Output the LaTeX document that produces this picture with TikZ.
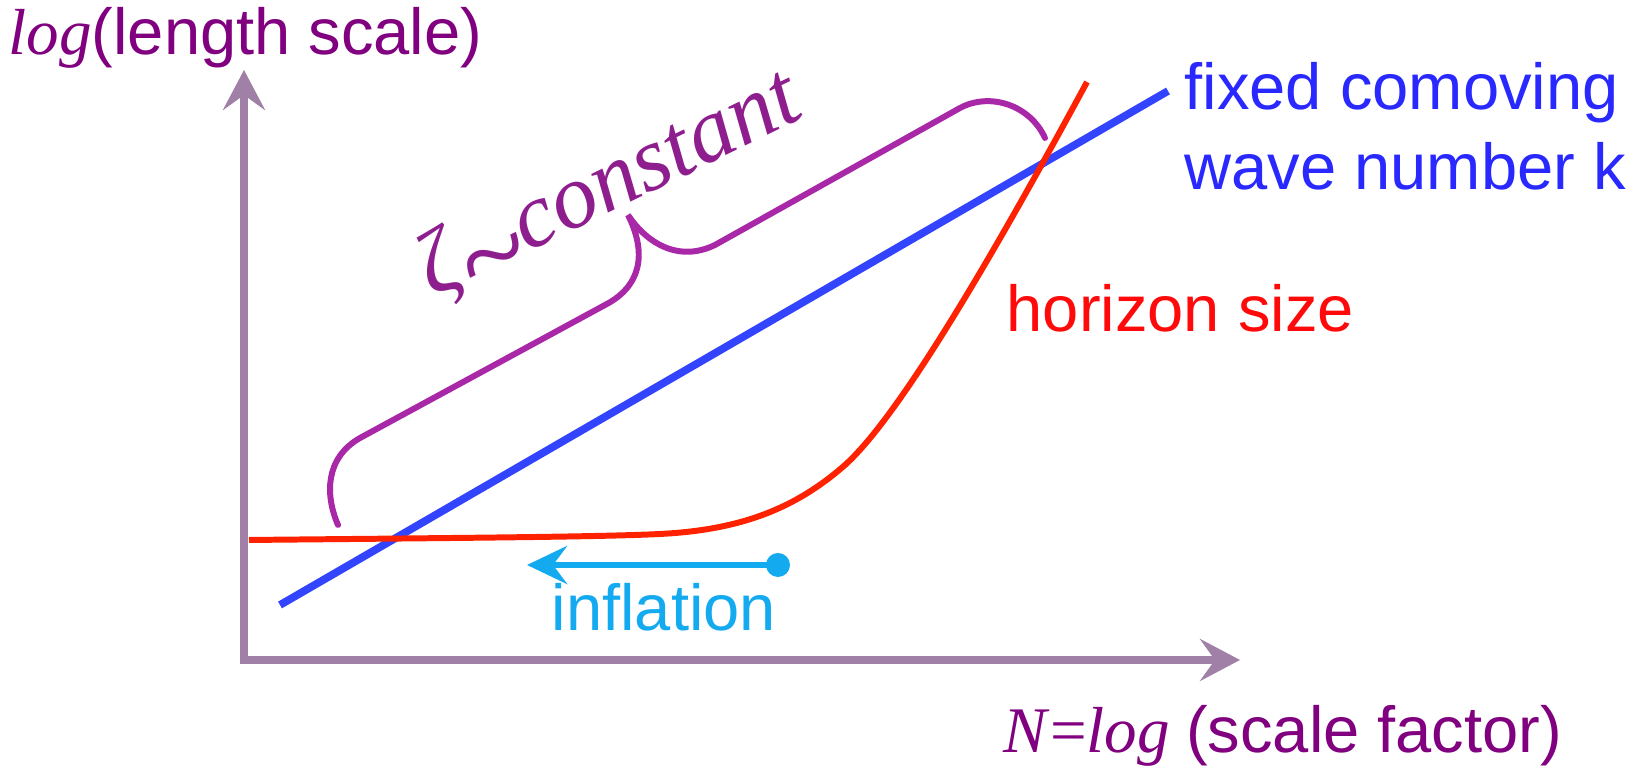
\documentclass[tikz,border=0pt]{standalone}
\usepackage{fontspec}
\setmainfont{Liberation Serif}
\newfontfamily\sansf{Liberation Sans}
\usetikzlibrary{arrows.meta}
\definecolor{axisc}{RGB}{161,128,168}
\definecolor{labc}{RGB}{128,0,128}
\definecolor{bracec}{RGB}{168,40,168}
\definecolor{zetac}{RGB}{142,30,142}
\definecolor{kline}{RGB}{51,68,255}
\definecolor{ktext}{RGB}{40,40,255}
\definecolor{hline}{RGB}{255,34,0}
\definecolor{htext}{RGB}{255,10,10}
\definecolor{inflc}{RGB}{20,170,240}
\tikzset{
  axisline/.style={draw=axisc, line width=2pt, line join=miter,
    {Stealth[length=0.4cm,width=0.42cm,inset=0.15cm]}-{Stealth[length=0.4cm,width=0.42cm,inset=0.15cm]}},
  kwave/.style={draw=kline, line width=2.2pt},
  horizon/.style={draw=hline, line width=1.7pt},
  bracepath/.style={draw=bracec, line width=1.7pt, line cap=round},
  inflarrow/.style={draw=inflc, line width=1.8pt, -{Stealth[length=0.4cm,width=0.38cm,inset=0.14cm]}},
  sanslab/.style={inner sep=0pt, font=\fontsize{18.5pt}{22pt}\sansf},
  mixlab/.style={inner sep=0pt, font=\fontsize{18.5pt}{22pt}\selectfont, text=labc}
}
\begin{document}
\begin{tikzpicture}[x=0.01cm,y=-0.01cm]
\useasboundingbox (0,0) rectangle (1635,768);
% axes
\coordinate (origin) at (244,660);
\coordinate (ytip) at (244,70);
\coordinate (xtip) at (1240,660);
\draw[axisline] (ytip) -- (origin) -- (xtip);
% axis labels
\node[mixlab, anchor=base west] (ylab) at (8,55) {\textit{log}{\sansf(length scale)}};
\node[mixlab, anchor=base west] (xlab) at (1003,753) {\textit{N}=\textit{log} {\sansf(scale factor)}};
% fixed comoving wave number line
\coordinate (k0) at (280,605);
\coordinate (k1) at (1168,91);
\draw[kwave] (k0) -- (k1);
\node[sanslab, text=ktext, anchor=base west] (kl1) at (1184,110) {fixed comoving};
\node[sanslab, text=ktext, anchor=base west] (kl2) at (1184,190) {wave number k};
% horizon
\coordinate (h0) at (249,540);
\coordinate (h3) at (1087,82);
\draw[horizon] (h0) .. controls (450,538) and (600,537) .. (660,534)
  .. controls (740,530) and (795,509) .. (845,465)
  .. controls (895,420) and (980,280) .. (h3);
\node[sanslab, text=htext, anchor=base west] (hl) at (1006,332) {horizon size};
% brace
\draw[bracepath] (338,525) .. controls (325,495) and (325,458) .. (360,438) -- (605,305)
  .. controls (640,287) and (648,255) .. (628,215)
  .. controls (648,245) and (680,262) .. (715,245) -- (960,108)
  .. controls (990,92) and (1030,105) .. (1045,138);
\node[rotate=26, inner sep=0pt, font=\fontsize{26pt}{30pt}\itshape, text=zetac] (zc) at (612,192) {ζ{\fontsize{36pt}{36pt}\selectfont\raisebox{-0.5ex}{\textasciitilde}}constant};
% inflation
\coordinate (i0) at (778,565);
\coordinate (i1) at (527,565);
\draw[inflarrow] (i0) -- (i1);
\fill[inflc] (i0) circle[radius=0.12cm];
\node[sanslab, text=inflc, anchor=base west] (il) at (551,631) {inflation};
\end{tikzpicture}
\end{document}
